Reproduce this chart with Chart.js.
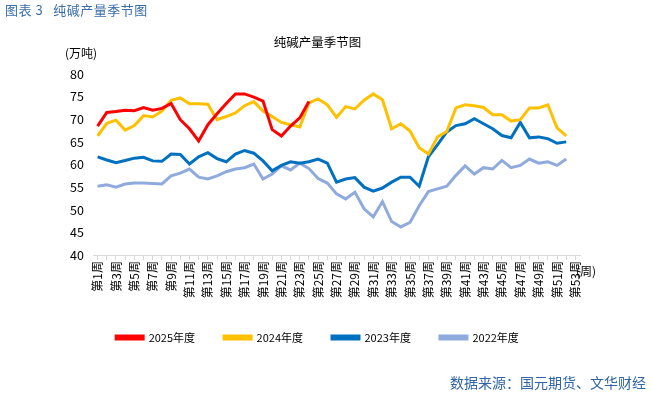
<!DOCTYPE html>
<html>
<head>
<meta charset="utf-8">
<script src="https://cdn.jsdelivr.net/npm/chart.js@4"></script>
<style>
  html, body { margin: 0; padding: 0; background: #fff; }
  body { width: 653px; height: 395px; position: relative; overflow: hidden;
         font-family: "Noto Sans CJK SC", "Noto Sans", sans-serif; }
  .wrap { position: absolute; left: 0; top: 0; width: 653px; height: 395px; }
  .head { position: absolute; left: 5px; top: 0px; font-size: 13px; color: #3A6EAA; letter-spacing: 0.5px; }
  .src { position: absolute; right: 7px; top: 372px; font-size: 14px; color: #2E64A8; }
</style>
</head>
<body>
<div class="wrap"><canvas id="c" width="653" height="395"></canvas></div>
<div class="head">图表 3&nbsp;&nbsp;&nbsp;纯碱产量季节图</div>
<div class="src">数据来源：国元期货、文华财经</div>
<script>
const weeks = ['第1周', '第2周', '第3周', '第4周', '第5周', '第6周', '第7周', '第8周', '第9周', '第10周',
    '第11周', '第12周', '第13周', '第14周', '第15周', '第16周', '第17周', '第18周', '第19周', '第20周',
    '第21周', '第22周', '第23周', '第24周', '第25周', '第26周', '第27周', '第28周', '第29周', '第30周',
    '第31周', '第32周', '第33周', '第34周', '第35周', '第36周', '第37周', '第38周', '第39周', '第40周',
    '第41周', '第42周', '第43周', '第44周', '第45周', '第46周', '第47周', '第48周', '第49周', '第50周',
    '第51周', '第52周', '第53周']

const y2025 = [68.5, 71.5, 71.7, 72.0, 71.9, 72.6, 72.0, 72.4, 73.5, 69.9,
    67.9, 65.2, 68.8, 71.2, 73.5, 75.6, 75.6, 74.9, 74.0, 67.7,
    66.3, 68.5, 70.3, 73.9]

const y2024 = [66.3, 69.1, 69.8, 67.6, 68.6, 70.8, 70.5, 71.8, 74.2, 74.7,
    73.4, 73.4, 73.3, 69.9, 70.6, 71.4, 73.0, 73.9, 71.8, 70.6,
    69.3, 68.8, 68.3, 73.6, 74.5, 73.2, 70.4, 72.8, 72.3, 74.2,
    75.6, 74.3, 67.9, 69.0, 67.4, 63.7, 62.3, 66.1, 67.3, 72.5,
    73.2, 73.0, 72.6, 71.0, 71.0, 69.6, 69.9, 72.5, 72.5, 73.2,
    68.1, 66.3]

const y2023 = [61.7, 61.0, 60.4, 60.9, 61.4, 61.6, 60.8, 60.7, 62.3, 62.2,
    60.1, 61.7, 62.6, 61.3, 60.6, 62.3, 63.1, 62.5, 60.8, 58.6,
    59.8, 60.6, 60.3, 60.6, 61.2, 60.3, 56.1, 56.8, 57.1, 55.0,
    54.1, 54.8, 56.1, 57.2, 57.2, 55.2, 61.7, 64.4, 67.2, 68.6,
    69.0, 70.1, 69.0, 67.9, 66.4, 65.9, 69.3, 65.9, 66.1, 65.7,
    64.7, 65.0]

const y2022 = [55.2, 55.5, 55.0, 55.7, 55.9, 55.9, 55.8, 55.7, 57.5, 58.1,
    59.0, 57.2, 56.8, 57.5, 58.4, 59.0, 59.3, 60.1, 56.8, 57.9,
    59.7, 58.8, 60.3, 59.1, 56.9, 55.9, 53.5, 52.4, 53.9, 50.2,
    48.4, 51.8, 47.4, 46.2, 47.2, 50.9, 54.0, 54.6, 55.2, 57.6,
    59.7, 57.9, 59.3, 59.0, 60.9, 59.3, 59.8, 61.2, 60.3, 60.6,
    59.8, 61.2]

const yTicks = [40, 45, 50, 55, 60, 65, 70, 75, 80]

const FONT = '"Noto Sans CJK SC", "Noto Sans", sans-serif'

const extraText = {
    id: 'extraText',
    afterDraw(chart) {
        const c = chart.ctx
        const area = chart.chartArea
        c.save()
        c.fillStyle = '#000'
        c.font = '12px ' + FONT
        c.textBaseline = 'middle'
        c.textAlign = 'left'
        c.fillText('(万吨)', 65, 53)
        c.fillText('(周)', area.right - 4, 271)
        c.restore()
    },
}

function line(label, data, color) {
    return {
        label: label,
        data: data,
        borderColor: color,
        backgroundColor: color,
        borderWidth: 3,
        pointRadius: 0,
        tension: 0,
        fill: false,
    }
}

const ctx = document.getElementById('c').getContext('2d')
const myChart = new Chart(ctx, {
    type: 'line',
    data: {
        labels: weeks,
        datasets: [
            line('2025年度', y2025, '#FF0000'),
            line('2024年度', y2024, '#FFC000'),
            line('2023年度', y2023, '#0070C0'),
            line('2022年度', y2022, '#8FAADC'),
        ],
    },
    options: {
        responsive: false,
        animation: false,
        layout: {
            padding: { left: 55, right: 73, top: 35, bottom: 42 },
        },
        plugins: {
            title: {
                display: true,
                text: '纯碱产量季节图',
                color: '#000',
                font: { family: FONT, size: 12.5, weight: 'normal' },
                padding: { top: 0, bottom: 24 },
            },
            legend: {
                position: 'bottom',
                labels: {
                    color: '#000',
                    font: { family: FONT, size: 11 },
                    boxWidth: 27,
                    boxHeight: 3,
                    padding: 29,
                },
            },
            tooltip: { enabled: false },
        },
        scales: {
            x: {
                offset: true,
                grid: {
                    drawOnChartArea: false,
                    color: '#D9D9D9',
                    tickLength: 5,
                },
                border: { color: '#D9D9D9' },
                ticks: {
                    autoSkip: false,
                    maxRotation: 90,
                    minRotation: 90,
                    padding: 1,
                    color: '#000',
                    font: { family: FONT, size: 12 },
                    callback: function (v, i) {
                        return i % 2 === 0 ? weeks[i] : ''
                    },
                },
                afterFit: function (s) { s.height = 48 },
            },
            y: {
                min: 40,
                max: 80,
                afterBuildTicks: function (s) {
                    s.ticks = yTicks.map(function (v) { return { value: v } })
                },
                grid: { display: false },
                border: { display: false },
                ticks: {
                    color: '#000',
                    font: { family: FONT, size: 12.5 },
                    padding: 1,
                },
                afterFit: function (s) { s.width = 38 },
            },
        },
    },
    plugins: [extraText],
})
</script>
</body>
</html>
